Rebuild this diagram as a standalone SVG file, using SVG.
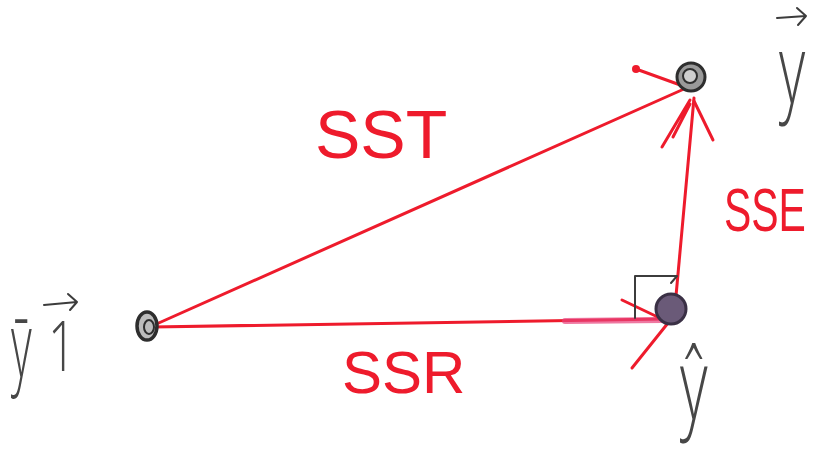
<svg xmlns="http://www.w3.org/2000/svg" width="816" height="453" viewBox="0 0 816 453">
<style>
.red{stroke:#ee1b2c;stroke-width:3;fill:none;stroke-linecap:round;stroke-linejoin:round}
.ink{stroke:#3c3c3c;stroke-width:2;fill:none;stroke-linecap:round;stroke-linejoin:round}
.lbl{font-family:"Liberation Sans","DejaVu Sans",sans-serif;fill:#ee1b2c}
.hw{font-family:"Open Sans","Liberation Sans",sans-serif;font-weight:300;fill:#474747}
</style>
<rect width="816" height="453" fill="#ffffff"/>
<g id="connectors">
  <line class="red" x1="152" y1="326" x2="684" y2="89"/>
  <line class="red" x1="152" y1="327" x2="664" y2="319"/>
  <line x1="565" y1="321" x2="662" y2="320" stroke="#e8407a" stroke-width="6" stroke-linecap="round" opacity="0.7"/>
  <line class="red" x1="676" y1="296" x2="694" y2="98"/>
  <path class="red" d="M662,147 L690,100 M673,137 L690,104 M713,140 L694,101"/>
  <path class="red" d="M622,300 L664,320 M632,368 L668,323"/>
  <path class="red" d="M636,69 L683,86"/>
  <circle cx="636" cy="69" r="4" fill="#ee1b2c"/>
</g>
<g id="node-ybar1">
  <ellipse cx="147" cy="326" rx="10" ry="14" fill="#bdbdbd" stroke="#2e2e2e" stroke-width="3.5"/>
  <ellipse cx="149" cy="327" rx="5" ry="7" fill="none" stroke="#2e2e2e" stroke-width="2"/>
  <text class="hw" font-size="90" transform="translate(11,378) scale(0.5,1)">ȳ</text>
  <text class="hw" font-size="70" transform="translate(48,371) scale(0.7,1)">1</text>
  <path class="ink" d="M44,305 L77,302 M68,294 L77,302 L70,310"/>
</g>
<g id="node-y">
  <circle cx="691" cy="77" r="14" fill="#9a9a9a" stroke="#2e2e2e" stroke-width="3"/>
  <circle cx="690" cy="76" r="7" fill="#cfcfcf" stroke="#2e2e2e" stroke-width="2"/>
  <text class="hw" font-size="95" transform="translate(779,103) scale(0.6,1)">y</text>
  <path class="ink" d="M777,18 L806,16 M797,8 L806,16 L798,25"/>
</g>
<g id="node-yhat">
  <circle cx="671" cy="309" r="15" fill="#6a5a78" stroke="#3a3045" stroke-width="3"/>
  <path class="ink" d="M635,318 L635,276 L677,276 M671,283 L677,276"/>
  <text class="hw" font-size="100" transform="translate(680,420) scale(0.6,1)">ŷ</text>
</g>
<g id="labels">
  <text class="lbl" x="315" y="158" font-size="68">SST</text>
  <text class="lbl" font-size="62" transform="translate(724,231) scale(0.66,1)">SSE</text>
  <text class="lbl" x="342" y="393" font-size="60">SSR</text>
</g>
</svg>
